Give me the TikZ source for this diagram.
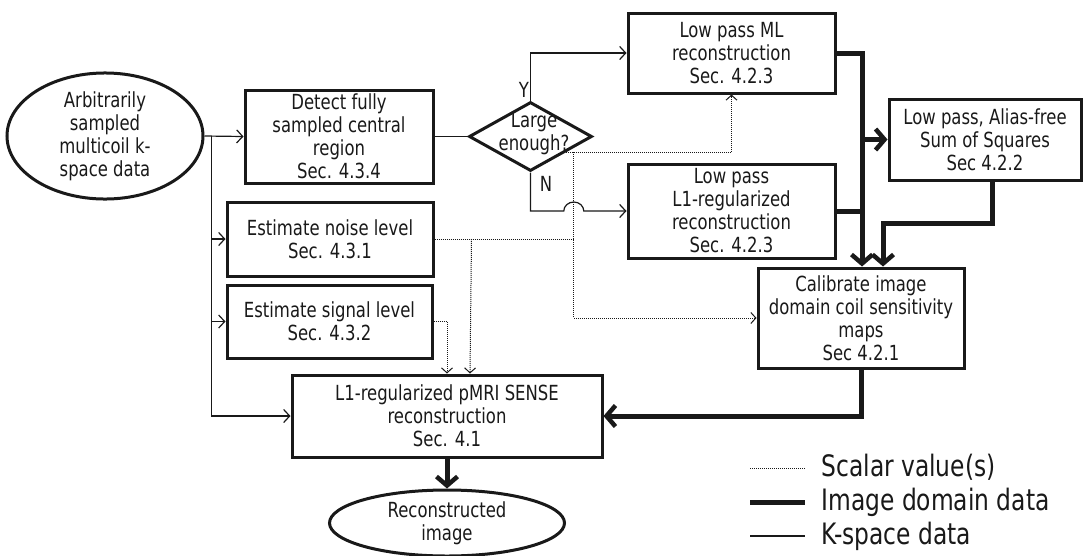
\documentclass[tikz,border=0pt]{standalone}
\usepackage{fontspec}
\setmainfont{DejaVu Sans Condensed}[FakeStretch=0.88]
\usetikzlibrary{arrows.meta,shapes.geometric,calc}
\begin{document}
\begin{tikzpicture}[x=1pt,y=-1pt,
  font=\fontsize{20.8}{23}\selectfont,
  every node/.style={text=black!90},
  box/.style={draw=black!90,line width=3pt,rectangle,align=center,inner sep=0pt},
  oval/.style={draw=black!90,line width=3pt,ellipse,align=center,inner sep=0pt},
  kline/.style={draw=black!90,line width=1.2pt},
  karrow/.style={kline,-{Straight Barb[length=6pt,width=13pt,line width=1.2pt]}},
  imline/.style={draw=black!90,line width=5pt},
  imarrow/.style={imline,-{Straight Barb[length=9pt,width=21pt,line width=4.5pt]}},
  scline/.style={draw=black!90,line width=1pt,dash pattern=on 1pt off 1pt},
  scarrow/.style={scline,-{Straight Barb[length=5pt,width=11pt,line width=1pt]}},
  legend/.style={anchor=base west,font=\fontsize{29.5}{32}\selectfont}
]
\useasboundingbox (0,0) rectangle (1085,555);

% processing blocks
\node[oval,minimum width=196,minimum height=104] (in) at (105,136)
  {Arbitrarily\\sampled\\multicoil k-\\space data};
\node[box,minimum width=188,minimum height=93] (det) at (339,136.5)
  {Detect fully\\sampled central\\region\\Sec. 4.3.4};
\node[draw=black!90,line width=3pt,diamond,inner sep=0pt,
      minimum width=123,minimum height=69] (dia) at (530.5,136.5) {};
\node (dialbl) at (534,134) [align=center] {Large\\enough?};
\node[box,minimum width=207,minimum height=80] (ml) at (731.5,53)
  {Low pass ML\\reconstruction\\Sec. 4.2.3};
\node[box,minimum width=207,minimum height=94] (l1) at (731.5,211)
  {Low pass\\L1-regularized\\reconstruction\\Sec. 4.2.3};
\node[box,minimum width=192,minimum height=81] (sos) at (985,139.5)
  {Low pass, Alias-free\\Sum of Squares\\Sec 4.2.2};
\node[box,minimum width=206,minimum height=100] (cal) at (861,318)
  {Calibrate image\\domain coil sensitivity\\maps\\Sec 4.2.1};
\node[box,minimum width=206,minimum height=74] (noise) at (330,239)
  {Estimate noise level\\Sec. 4.3.1};
\node[box,minimum width=205,minimum height=73] (sig) at (329.5,321.5)
  {Estimate signal level\\Sec. 4.3.2};
\node[box,minimum width=310,minimum height=82] (pmri) at (447,416)
  {L1-regularized pMRI SENSE\\reconstruction\\Sec. 4.1};
\node[oval,minimum width=235,minimum height=66] (out) at (447,523)
  {Reconstructed\\image};

% branch labels
\node (ylbl) at (524,90) {Y};
\node (nlbl) at (546,184) {N};

% helper points
\coordinate (tk) at ($(in.east)+(7,0)$);
\coordinate (dtap) at ($(dia.east)!0.44!(dia.south)$);
\coordinate (tap) at ($(dtap)+(8,0)$);
\coordinate (bus) at ($(cal.north)+(1,0)$);
\coordinate (hop) at (tap |- l1.west);

% k-space data
\draw[karrow] (in.east) -- (det.west);
\draw[karrow] (tk) |- (noise.west);
\draw[karrow] (tk) |- (sig.west);
\draw[karrow] (tk) |- (pmri.west);
\draw[kline] (det.east) -- (dia.west);
\draw[karrow] (dia.north) |- (ml.west);
\draw[karrow] (dia.south) |- ($(hop)+(-10,0)$)
  arc[start angle=180,end angle=360,x radius=10,y radius=9] -- (l1.west);

% image domain data
\draw[imarrow] (ml.east) -| (bus);
\draw[imline] (l1.east) -- (l1.east -| bus);
\draw[imarrow] (bus |- sos.west) -- (sos.west);
\draw[imarrow] ($(sos.south)+(7,0)$) |- ($(cal.north)+(22,-43)$) -- ($(cal.north)+(22,0)$);
\draw[imarrow] (cal.south) |- (pmri.east);
\draw[imarrow] (pmri.south) -- (out.north);

% scalar values
\draw[scarrow] (dtap) -| (ml.south);
\draw[scarrow] (tap) |- (cal.west);
\draw[scline] (noise.east) -- (noise.east -| tap);
\draw[scarrow] ($(noise.east)+(37,0)$) -- ($(pmri.north)+(23,0)$);
\draw[scarrow] (sig.east) -| (pmri.north);

% legend
\coordinate (ls) at (750,468);
\coordinate (le) at (805,468);
\draw[scline] (ls) -- (le);
\node[legend] (l-sc) at (818,476) {Scalar value(s)};
\coordinate (li) at (750,502);
\coordinate (lj) at (805,502);
\draw[imline] (li) -- (lj);
\node[legend] (l-im) at (818,510) {Image domain data};
\coordinate (lk) at (750,536);
\coordinate (ll) at (805,536);
\draw[kline] (lk) -- (ll);
\node[legend] (l-k) at (818,544) {K-space data};
\end{tikzpicture}
\end{document}
